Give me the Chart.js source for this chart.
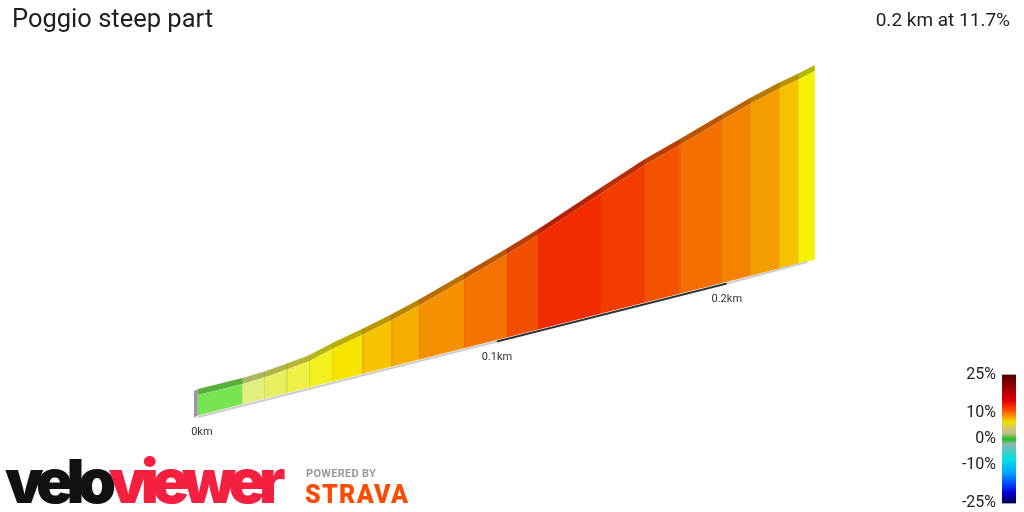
<!DOCTYPE html>
<html>
<head>
<meta charset="utf-8">
<script src="https://cdn.jsdelivr.net/npm/chart.js@4/dist/chart.umd.min.js"></script>
<style>
    body { margin: 0; background: #fff; }
    #wrap { position: relative; width: 1024px; height: 512px; overflow: hidden; font-family: Roboto, sans-serif; }
    #profile { position: absolute; left: 0; top: 0; }
    #legend { position: absolute; left: 940px; top: 359px; }
    .txt { position: absolute; white-space: nowrap; line-height: 1; }
    #title { left: 12px; top: 6px; font-size: 25.5px; color: #1e1e1e; }
    #summary { right: 14px; top: 10px; font-size: 19px; color: #1e1e1e; }
    #velo { left: 5px; top: 451px; font-family: Inter, sans-serif; font-weight: 900; font-size: 61px; letter-spacing: -6.5px; }
    #velo .a { color: #111; }
    #velo .b { color: #f5203f; }
    #powered { left: 306px; top: 468px; font-size: 11px; font-weight: bold; letter-spacing: 0.3px; color: #999; }
    #strava { left: 305px; top: 482px; font-size: 25px; font-weight: 900; letter-spacing: 1.3px; color: #fc4c02; }
</style>
</head>
<body>
<div id="wrap">
    <canvas id="profile" width="1024" height="512"></canvas>
    <canvas id="legend" width="84" height="160"></canvas>
    <div class="txt" id="title">Poggio steep part</div>
    <div class="txt" id="summary">0.2 km at 11.7%</div>
    <div class="txt" id="velo"><span class="a">velo</span><span class="b">viewer</span></div>
    <div class="txt" id="powered">POWERED BY</div>
    <div class="txt" id="strava">STRAVA</div>
</div>
<script>
    // profile as drawn in the 3D view (distance along the ribbon, height on screen)
    const distKm = [0, 0.0174, 0.0260, 0.0348, 0.0436, 0.0525, 0.0645, 0.0758, 0.0867, 0.1043,
        0.1209, 0.1330, 0.1572, 0.1746, 0.1883, 0.2045, 0.2160, 0.2271, 0.2346, 0.2410];
    const topAlt = [23.4, 25.6, 26.9, 28.5, 30.2, 32.6, 35.5, 38.4, 41.4, 46.6,
        51.6, 55.4, 63.6, 69.4, 73.4, 78.3, 81.7, 84.7, 86.5, 88.2];
    const bandColors = ['#77e552', '#e2ee80', '#e8ee62', '#eef046', '#f2f01e', '#f6e400', '#f7c300',
        '#f5ad00', '#f59000', '#f47300', '#f44f00', '#f22c00', '#f33d00', '#f45200', '#f46e00',
        '#f58200', '#f59c00', '#f6c100', '#f4f200'];

    // bottom edge of the ribbon
    const baseKm = [0, 0.2410];
    const baseAlt = [19.3, 50.5];

    // ground line with km marks
    const groundKm = [0, 0.1168, 0.2066, 0.2380];
    const groundAlt = [19.0, 34.1, 45.7, 50.0];
    const groundColors = ['#cccccc', '#333333', '#cccccc'];
    const kmLabels = ['0km', '0.1km', '0.2km'];

    // left end cap
    const capKm = [-0.0016, 0];
    const capTop = [24.2, 24.6];
    const capBottom = [18.8, 19.3];

    // gradient legend
    const legendTicks = [25, 10, 0, -10, -25];
    const legendGrades = [25, 20, 15, 11, 9, 6.5, 4, 2, 0, -2, -8, -13, -17, -21, -25];
    const legendColors = ['#4d0000', '#9a0000', '#e00000', '#ff5000', '#ff9000', '#eee000', '#d2c47a',
        '#b8c080', '#20c020', '#8cb8b0', '#00e0e0', '#00a8ff', '#0050ff', '#0000d0', '#000050'];

    const STRIP = 1.2;

    function pts(xs, ys) {
        return xs.map((x, i) => ({x: x, y: ys[i]}));
    }

    function shade(hex, f) {
        const n = parseInt(hex.slice(1), 16);
        const r = Math.round(((n >> 16) & 255) * f);
        const g = Math.round(((n >> 8) & 255) * f);
        const b = Math.round((n & 255) * f);
        return 'rgb(' + r + ',' + g + ',' + b + ')';
    }

    // one horizontal gradient with hard stops per band, so the fill has no seams
    function bandGradient(chart, factor, sepFactor) {
        const {ctx, chartArea, scales} = chart;
        if (!chartArea) return null;
        const w = chartArea.right - chartArea.left;
        const off = v => Math.min(1, Math.max(0, (scales.x.getPixelForValue(v) - chartArea.left) / w));
        const d = 0.6 / w;
        const g = ctx.createLinearGradient(chartArea.left, 0, chartArea.right, 0);
        const last = bandColors.length - 1;
        bandColors.forEach((c, i) => {
            const a = off(distKm[i]);
            const b = off(distKm[i + 1]);
            if (i > 0) {
                const sep = shade(c, sepFactor);
                g.addColorStop(a - d, sep);
                g.addColorStop(a + d, sep);
            }
            g.addColorStop(i > 0 ? a + d : a, shade(c, factor));
            g.addColorStop(i < last ? b - d : b, shade(c, factor));
        });
        return g;
    }

    const kmPlugin = {
        id: 'kmMarks',
        afterDatasetsDraw(chart) {
            const {ctx, scales: {x, y}} = chart;
            ctx.save();
            ctx.font = '11px Roboto';
            ctx.fillStyle = '#333';
            ctx.textAlign = 'center';
            ctx.textBaseline = 'top';
            kmLabels.forEach((label, i) => {
                ctx.fillText(label, x.getPixelForValue(groundKm[i]) + (i === 0 ? 4 : 0), y.getPixelForValue(groundAlt[i]) + 10);
            });
            ctx.restore();
        }
    };

    const noLine = {borderWidth: 0, borderColor: 'rgba(0,0,0,0)', pointRadius: 0};

    new Chart(document.getElementById('profile'), {
        type: 'line',
        data: {
            datasets: [
                {
                    data: pts(groundKm, groundAlt),
                    borderWidth: 2,
                    borderColor: '#cccccc',
                    pointRadius: 0,
                    fill: false,
                    segment: {borderColor: c => groundColors[c.p0DataIndex]}
                },
                Object.assign({data: pts(baseKm, baseAlt), fill: false}, noLine),
                Object.assign({
                    data: pts(distKm, topAlt),
                    fill: 1,
                    backgroundColor: c => bandGradient(c.chart, 1, 0.93)
                }, noLine),
                Object.assign({
                    data: pts(distKm, topAlt.map(v => v + STRIP)),
                    fill: 2,
                    backgroundColor: c => bandGradient(c.chart, 0.76, 0.7)
                }, noLine),
                Object.assign({data: pts(capKm, capBottom), fill: false}, noLine),
                Object.assign({data: pts(capKm, capTop), fill: 4, backgroundColor: '#9a9a9a'}, noLine)
            ]
        },
        options: {
            responsive: false,
            animation: false,
            events: [],
            layout: {padding: 0},
            plugins: {legend: {display: false}, tooltip: {enabled: false}},
            scales: {
                x: {type: 'linear', display: false, min: -0.0773, max: 0.3227},
                y: {type: 'linear', display: false, min: 0, max: 102.4}
            }
        },
        plugins: [kmPlugin]
    });

    new Chart(document.getElementById('legend'), {
        type: 'bar',
        data: {
            labels: [''],
            datasets: [{
                data: [[-25, 25]],
                borderWidth: 0,
                borderSkipped: false,
                barPercentage: 1,
                categoryPercentage: 1,
                backgroundColor: function (c) {
                    const chart = c.chart;
                    if (!chart.chartArea) return null;
                    const y = chart.scales.y;
                    const g = chart.ctx.createLinearGradient(0, y.getPixelForValue(25), 0, y.getPixelForValue(-25));
                    legendGrades.forEach((v, i) => g.addColorStop((25 - v) / 50, legendColors[i]));
                    return g;
                }
            }]
        },
        options: {
            responsive: false,
            animation: false,
            events: [],
            layout: {padding: {top: 0, bottom: 0, right: 8, left: 0}},
            plugins: {legend: {display: false}, tooltip: {enabled: false}},
            scales: {
                x: {display: false},
                y: {
                    min: -25,
                    max: 25,
                    position: 'left',
                    grid: {display: false, drawTicks: false},
                    border: {display: false},
                    afterBuildTicks: s => { s.ticks = legendTicks.map(v => ({value: v})); },
                    afterFit: s => { s.width = 62; },
                    ticks: {padding: 6, color: '#222', font: {family: 'Roboto', size: 16}, callback: v => v + '%'}
                }
            }
        }
    });
</script>
</body>
</html>
